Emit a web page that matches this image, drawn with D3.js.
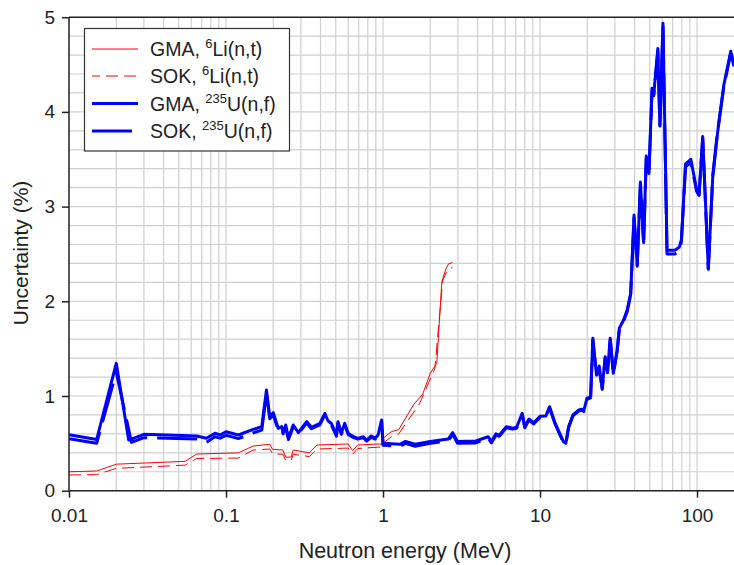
<!DOCTYPE html>
<html><head><meta charset="utf-8">
<script src="https://cdn.jsdelivr.net/npm/d3@7"></script>
<style>body{margin:0;background:#fff}svg{display:block}text{font-family:"Liberation Sans",Arial,Helvetica,sans-serif;fill:#222}</style>
</head><body><svg id="c" width="734" height="565"></svg>
<script>
// ---- data ----
const liGmaE = [0.01,0.015,0.02,0.055,0.065,0.12,0.149,0.19,0.198,0.23,0.24,0.26,0.268,0.34,0.38,0.6,0.64,0.69,0.93,0.99,1.0,1.13,1.26,1.56,1.79,2.0,2.2,2.37,2.5,2.61,2.77];
const liGmaU = [0.20,0.208,0.28,0.31,0.387,0.40,0.472,0.49,0.437,0.43,0.355,0.355,0.43,0.40,0.483,0.493,0.423,0.483,0.493,0.49,0.553,0.623,0.645,0.905,1.02,1.24,1.345,2.207,2.33,2.394,2.41];
const liSokE = [0.01,0.015,0.02,0.055,0.065,0.12,0.149,0.19,0.198,0.23,0.24,0.26,0.268,0.34,0.38,0.6,0.64,0.69,0.93,0.99,1.0,1.13,1.26,1.71,2.14,2.4,2.55,2.77];
const liSokU = [0.166,0.17,0.236,0.27,0.34,0.345,0.43,0.44,0.39,0.385,0.32,0.32,0.385,0.36,0.44,0.45,0.385,0.445,0.46,0.455,0.50,0.57,0.60,0.92,1.29,2.22,2.32,2.36];
const uGmaE = [0.01,0.015,0.02,0.024,0.03,0.065,0.075,0.085,0.092,0.1,0.12,0.149,0.169,0.181,0.19,0.2,0.215,0.226,0.231,0.24,0.25,0.268,0.289,0.326,0.35,0.396,0.426,0.446,0.469,0.505,0.517,0.543,0.57,0.6,0.65,0.69,0.75,0.785,0.843,0.89,0.93,0.98,1.0,1.28,1.39,1.6,2.0,2.6,2.78,2.98,3.9,4.67,4.9,5.24,5.5,6.1,6.7,7.1,7.7,8.0,8.5,9.1,10,10.9,11.5,12.5,14.1,14.6,15.2,16.2,17.6,18.5,19,19.9,21,21.7,22.9,23.8,24.9,26,26.9,28,29.3,31,32,34,35.9,37.8,39.7,41.6,43.6,45.7,47.5,49.4,51.7,53,56.3,58,60.7,64.4,72.2,77,79.5,84.5,91.3,99.5,103,108.7,118,126,135,148,164,172];
const uGmaU = [0.59,0.54,1.345,0.535,0.595,0.578,0.553,0.606,0.59,0.623,0.588,0.648,0.676,1.063,0.78,0.824,0.659,0.676,0.62,0.694,0.553,0.694,0.613,0.73,0.67,0.71,0.817,0.739,0.71,0.588,0.729,0.606,0.711,0.606,0.57,0.553,0.57,0.535,0.578,0.553,0.588,0.747,0.50,0.49,0.52,0.49,0.52,0.545,0.613,0.52,0.525,0.57,0.52,0.60,0.585,0.676,0.66,0.67,0.817,0.676,0.757,0.718,0.785,0.79,0.887,0.71,0.518,0.50,0.676,0.80,0.852,0.86,0.845,0.976,0.99,1.61,1.22,1.317,1.08,1.415,1.257,1.61,1.24,1.486,1.715,1.80,1.908,2.085,2.91,2.38,3.26,2.62,3.535,3.35,4.25,4.18,4.67,3.86,4.935,2.54,2.54,2.57,2.647,3.45,3.50,3.175,3.12,3.74,2.34,3.32,3.77,4.28,4.64,4.5];
const uSokE = [0.01,0.015,0.02,0.025,0.03,0.065,0.075,0.085,0.092,0.1,0.12,0.149,0.169,0.181,0.19,0.2,0.215,0.226,0.231,0.24,0.25,0.268,0.289,0.326,0.35,0.396,0.426,0.446,0.469,0.505,0.517,0.543,0.57,0.6,0.65,0.69,0.75,0.785,0.843,0.89,0.93,0.98,1.0,1.28,1.39,1.6,2.0,2.6,2.78,2.98,3.9,4.67,4.9,5.24,5.5,6.1,6.7,7.1,7.7,8.0,8.5,9.1,10,10.9,11.5,12.5,14.1,14.6,15.2,16.2,17.6,18.5,19,19.9,21,21.7,22.9,23.8,24.9,26,26.9,28,29.3,31,32,34,35.9,37.8,39.7,41.6,43.6,45.7,47.5,49.4,51.7,53,56.3,58,60.7,64.4,72.2,77,79.5,84.5,91.3,99.5,103,108.7,118,126,135,148,164,172];
const uSokU = [0.55,0.50,1.25,0.51,0.56,0.545,0.51,0.57,0.555,0.585,0.55,0.61,0.64,1.03,0.76,0.80,0.64,0.655,0.60,0.675,0.54,0.675,0.60,0.715,0.655,0.695,0.80,0.725,0.695,0.575,0.715,0.595,0.695,0.595,0.56,0.545,0.56,0.525,0.565,0.545,0.575,0.73,0.48,0.47,0.50,0.47,0.50,0.525,0.595,0.50,0.505,0.555,0.505,0.585,0.575,0.665,0.65,0.66,0.805,0.665,0.745,0.705,0.775,0.78,0.875,0.70,0.505,0.49,0.665,0.79,0.84,0.85,0.835,0.965,0.98,1.59,1.21,1.30,1.07,1.40,1.245,1.595,1.23,1.47,1.70,1.785,1.89,2.07,2.88,2.37,3.24,2.60,3.51,3.35,4.22,4.17,4.64,3.85,4.90,2.50,2.50,2.53,2.63,3.42,3.47,3.16,3.12,3.72,2.34,3.33,3.79,4.26,4.62,4.48];
const xTicks = [0.01,0.1,1,10,100];
const xTickLabels = ["0.01","0.1","1","10","100"];
const yTicks = [0,1,2,3,4,5];
const legendNames = ["GMA, ","SOK, ","GMA, ","SOK, "];
const legendSup = ["6","6","235","235"];
const legendRest = ["Li(n,t)","Li(n,t)","U(n,f)","U(n,f)"];

// ---- layout ----
const svg = d3.select("#c");
const L = 69, R = 734, T = 17.2, B = 490.7;
const x = d3.scaleLog().domain([0.01, 172]).range([L, R]);
const y = d3.scaleLinear().domain([0, 5]).range([B, T]);

// grid
const g = svg.append("g");
const vgrid = [];
for (let d = 0.01; d < 200; d *= 10) for (let k = 1; k <= 9; k++) { const v = d * k; if (v > 0.01 && v < 172) vgrid.push(v); }
g.selectAll(".vg").data(vgrid).join("line").attr("x1", d => x(d)).attr("x2", d => x(d)).attr("y1", T).attr("y2", B)
  .attr("stroke", "#cfcfcf").attr("stroke-width", 1.2);
const hgrid = d3.range(1, 25).map(i => i * 0.2);
g.selectAll(".hg").data(hgrid).join("line").attr("x1", L).attr("x2", R).attr("y1", d => y(d)).attr("y2", d => y(d))
  .attr("stroke", "#cfcfcf").attr("stroke-width", 1.2);

// clip
svg.append("clipPath").attr("id", "clip").append("rect").attr("x", L).attr("y", T).attr("width", R - L).attr("height", B - T);
const line = d3.line().x(d => x(d[0])).y(d => y(d[1]));
const zip = (a, b) => a.map((v, i) => [v, b[i]]);
const pl = svg.append("g").attr("clip-path", "url(#clip)");
pl.append("path").attr("d", line(zip(liGmaE, liGmaU))).attr("fill", "none").attr("stroke", "#ff0000").attr("stroke-width", 1);
pl.append("path").attr("d", line(zip(liSokE, liSokU))).attr("fill", "none").attr("stroke", "#ff0000").attr("stroke-width", 1).attr("stroke-dasharray", "12,6");
pl.append("path").attr("d", line(zip(uGmaE, uGmaU))).attr("fill", "none").attr("stroke", "#0000ff").attr("stroke-width", 3).attr("stroke-linejoin", "round");
pl.append("path").attr("d", line(zip(uSokE, uSokU))).attr("fill", "none").attr("stroke", "#0000ff").attr("stroke-width", 3).attr("stroke-dasharray", "40,10").attr("stroke-linejoin", "round");

// frame
svg.append("line").attr("x1", L).attr("x2", R).attr("y1", T).attr("y2", T).attr("stroke", "#222").attr("stroke-width", 1.5);
// axes
const xa = svg.append("g").attr("transform", `translate(0,${B})`)
  .call(d3.axisBottom(x).tickValues(xTicks).tickFormat((d, i) => xTickLabels[i]).tickSize(7).tickPadding(11));
const ya = svg.append("g").attr("transform", `translate(${L},0)`)
  .call(d3.axisLeft(y).tickValues(yTicks).tickFormat(d3.format("d")).tickSize(7).tickPadding(7));
[xa, ya].forEach(a => {
  a.select(".domain").attr("stroke", "#222").attr("stroke-width", 1.5);
  a.selectAll(".tick line").attr("stroke", "#222").attr("stroke-width", 1.5);
  a.selectAll(".tick text").attr("font-size", 19).attr("fill", "#222").style("font-family", '"Liberation Sans",Arial,sans-serif');
});
xa.select(".domain").attr("d", `M${L},0H${R}`);
ya.select(".domain").attr("d", `M0,${T}V${B}`);

svg.append("text").attr("x", 405).attr("y", 558).attr("text-anchor", "middle").attr("font-size", 21.5).text("Neutron energy (MeV)");
svg.append("text").attr("transform", "translate(28,253) rotate(-90)").attr("text-anchor", "middle").attr("font-size", 21).text("Uncertainty (%)");

// legend
const lg = svg.append("g");
lg.append("rect").attr("x", 84.5).attr("y", 28.5).attr("width", 205).attr("height", 122.5).attr("fill", "#fff").attr("stroke", "#333").attr("stroke-width", 1.2);
const ly = [49, 76, 103.5, 131];
const lstyle = [["#ff0000", 1, null, 138], ["#ff0000", 1, "12,6", 138], ["#0000ff", 3, null, 138], ["#0000ff", 3, "40,10", 138]];
legendNames.forEach((n, i) => {
  lg.append("line").attr("x1", 92).attr("x2", lstyle[i][3]).attr("y1", ly[i]).attr("y2", ly[i])
    .attr("stroke", lstyle[i][0]).attr("stroke-width", lstyle[i][1]).attr("stroke-dasharray", lstyle[i][2]).attr("stroke-dashoffset", i === 1 ? 4 : 0);
  const t = lg.append("text").attr("x", 150).attr("y", ly[i] + 7).attr("font-size", 19.5);
  t.append("tspan").text(n);
  t.append("tspan").attr("font-size", 13).attr("dy", -8).text(legendSup[i]);
  t.append("tspan").attr("dy", 8).text(legendRest[i]);
});
</script></body></html>
